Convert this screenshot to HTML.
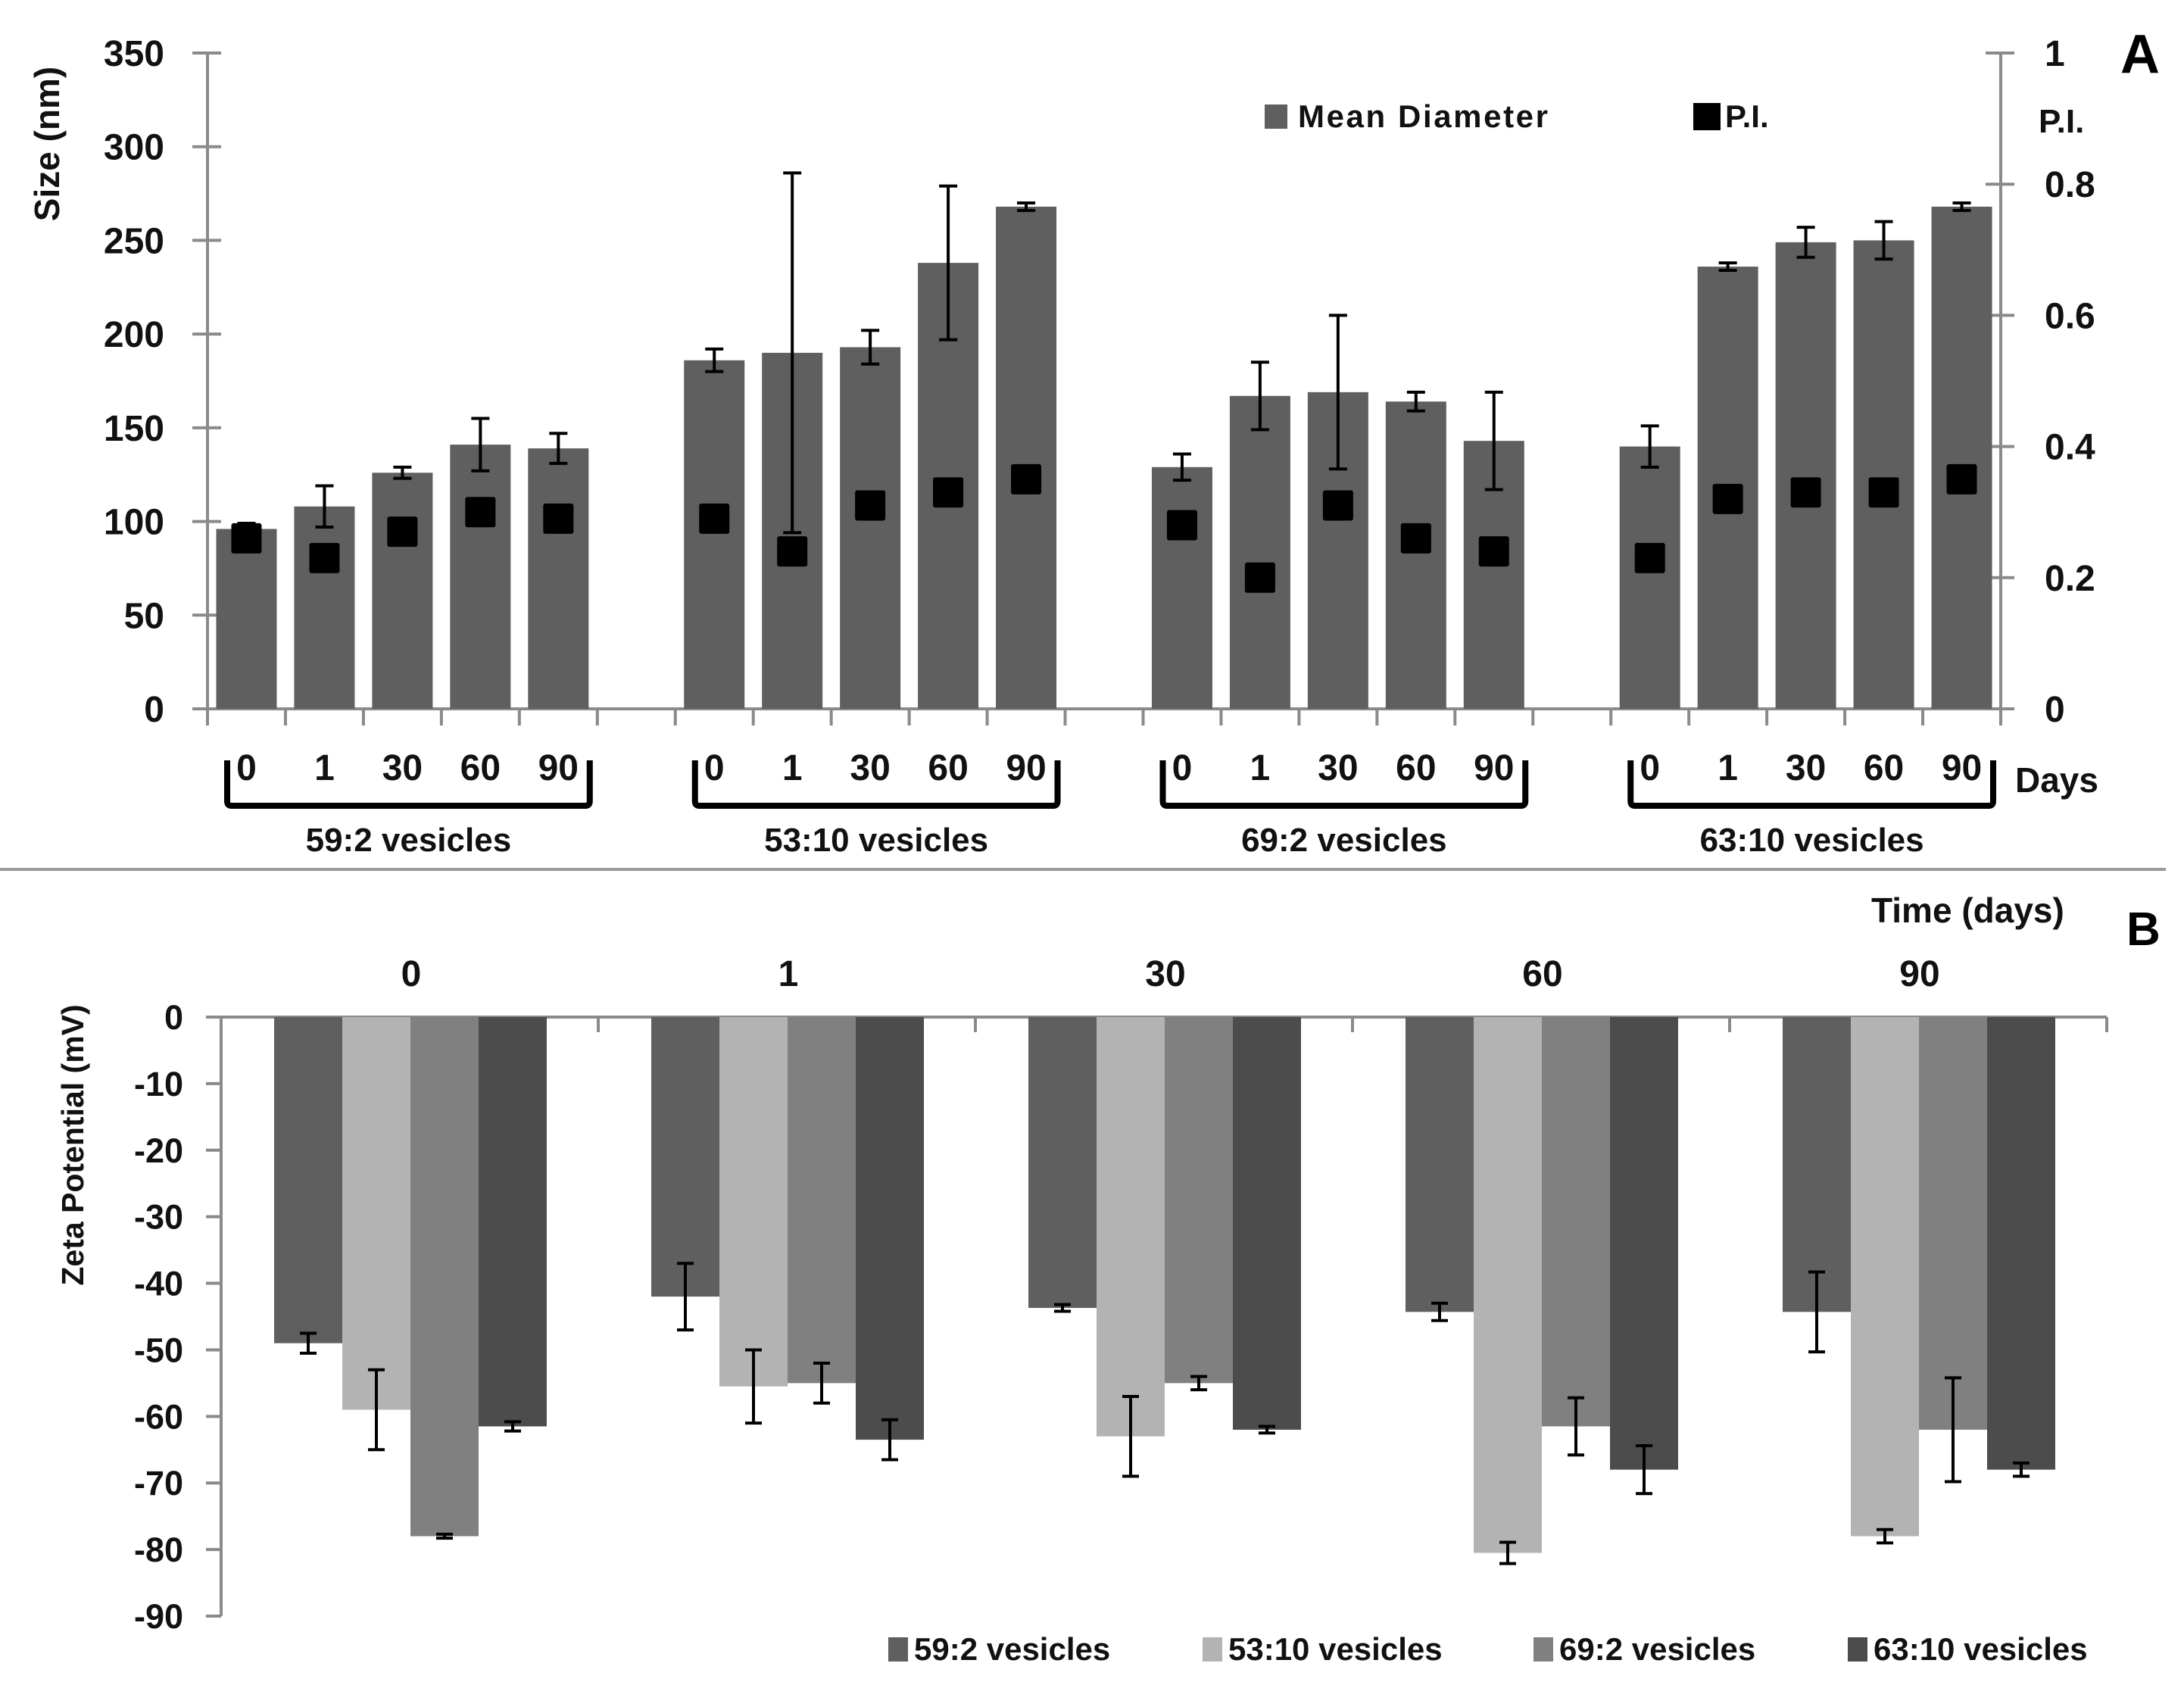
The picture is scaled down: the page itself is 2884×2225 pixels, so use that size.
<!DOCTYPE html>
<html><head><meta charset="utf-8">
<style>
html,body{margin:0;padding:0;background:#fff;}
svg{display:block;font-family:"Liberation Sans",sans-serif;font-weight:bold;}
</style></head>
<body>
<svg id="fig" width="2884" height="2225" viewBox="0 0 2884 2225" xmlns="http://www.w3.org/2000/svg">
<g id="panelA"></g>
<g id="panelB"></g>
</svg>
<script>
// ---------- Panel A data ----------
const groupsA = ["59:2 vesicles","53:10 vesicles","69:2 vesicles","63:10 vesicles"];
const daysA = ["0","1","30","60","90"];
const sizeG1 = [96,108,126,141,139];
const sizeG2 = [186,190,193,238,268];
const sizeG3 = [129,167,169,164,143];
const sizeG4 = [140,236,249,250,268];
const sizeErrG1 = [3,11,3,14,8];
const sizeErrG2 = [6,96,9,41,2];
const sizeErrG3 = [7,18,41,5,26];
const sizeErrG4 = [11,2,8,10,2];
const piG1 = [0.26,0.23,0.27,0.30,0.29];
const piG2 = [0.29,0.24,0.31,0.33,0.35];
const piG3 = [0.28,0.20,0.31,0.26,0.24];
const piG4 = [0.23,0.32,0.33,0.33,0.35];
const sizeTicks = [0,50,100,150,200,250,300,350];
const piTicks = [0,0.2,0.4,0.6,0.8,1];
const piTickLabels = ["0","0.2","0.4","0.6","0.8","1"];
// ---------- Panel B data ----------
const daysB = ["0","1","30","60","90"];
const seriesB = ["59:2 vesicles","53:10 vesicles","69:2 vesicles","63:10 vesicles"];
const zeta592 = [-49,-42,-43.7,-44.3,-44.3];
const zeta5310 = [-59,-55.5,-63,-80.5,-78];
const zeta692 = [-78,-55,-55,-61.5,-62];
const zeta6310 = [-61.5,-63.5,-62,-68,-68];
const zetaErr592 = [1.5,5,0.5,1.3,6];
const zetaErr5310 = [6,5.5,6,1.6,1];
const zetaErr692 = [0.3,3,1,4.3,7.8];
const zetaErr6310 = [0.7,3,0.5,3.6,1];
const zetaTicks = [0,-10,-20,-30,-40,-50,-60,-70,-80,-90];

const NS="http://www.w3.org/2000/svg";
function mk(parent,tag,attrs,text){const e=document.createElementNS(NS,tag);for(const k in attrs)e.setAttribute(k,attrs[k]);if(text!==undefined)e.textContent=text;parent.appendChild(e);return e;}

// ---------- Panel A ----------
(function(){
const g=document.getElementById('panelA');
const x0=274,x1=2642,yTop=70,yBot=936;
const nCat=23,cw=(x1-x0)/nCat;
const yS=v=>yBot-(v/350)*(yBot-yTop);
const yP=v=>yBot-v*(yBot-yTop);
const axisC="#8a8a8a";
let e;
e=mk(g,'line',{x1:x0,y1:yTop,x2:x0,y2:yBot,stroke:axisC,'stroke-width':4});

e=mk(g,'line',{x1:x1,y1:yTop,x2:x1,y2:yBot,stroke:axisC,'stroke-width':4});

e=mk(g,'line',{x1:x0,y1:yBot,x2:x1,y2:yBot,stroke:axisC,'stroke-width':4});

sizeTicks.forEach(t=>{
 const y=yS(t);
 e=mk(g,'line',{x1:x0-20,y1:y,x2:x0+18,y2:y,stroke:axisC,'stroke-width':4});
 
 e=mk(g,'text',{x:217,y:y+17,'text-anchor':'end','font-size':48,fill:'#111'},String(t));
 
});
piTicks.forEach((t,i)=>{
 const y=yP(t);
 e=mk(g,'line',{x1:x1-20,y1:y,x2:x1+18,y2:y,stroke:axisC,'stroke-width':4});
 
 e=mk(g,'text',{x:2700,y:y+17,'text-anchor':'start','font-size':48,fill:'#111'},piTickLabels[i]);
 
});
for(let i=0;i<=nCat;i++){
 e=mk(g,'line',{x1:x0+i*cw,y1:yBot,x2:x0+i*cw,y2:yBot+22,stroke:axisC,'stroke-width':4});
 
}
const sizes=[sizeG1,sizeG2,sizeG3,sizeG4],errs=[sizeErrG1,sizeErrG2,sizeErrG3,sizeErrG4],pis=[piG1,piG2,piG3,piG4];
sizes.forEach((arr,gi)=>{
 const start=gi*6;
 arr.forEach((v,di)=>{
  const cx=x0+(start+di+0.5)*cw;
  e=mk(g,'rect',{x:cx-40,y:yS(v),width:80,height:yBot-yS(v),fill:'#5f5f5f'});
  
  const er=errs[gi][di];
  e=mk(g,'path',{d:`M${cx} ${yS(v+er)}V${yS(v-er)}M${cx-12} ${yS(v+er)}H${cx+12}M${cx-12} ${yS(v-er)}H${cx+12}`,stroke:'#000','stroke-width':4,fill:'none'});
  
  const py=yP(pis[gi][di]);
  e=mk(g,'rect',{x:cx-20,y:py-20,width:40,height:40,fill:'#000',rx:3});
  
  e=mk(g,'text',{x:cx,y:1030,'text-anchor':'middle','font-size':48,fill:'#111'},daysA[di]);
  
 });
 const bx0=x0+start*cw+26,bx1=x0+(start+5)*cw-10;
 e=mk(g,'path',{d:`M${bx0} 1004V1058Q${bx0} 1064 ${bx0+6} 1064H${bx1-6}Q${bx1} 1064 ${bx1} 1058V1004`,stroke:'#000','stroke-width':8,fill:'none'});
 
 e=mk(g,'text',{x:(bx0+bx1)/2,y:1124,'text-anchor':'middle','font-size':44,fill:'#111'},groupsA[gi]);
 
});
e=mk(g,'text',{x:2661,y:1046,'font-size':46,fill:'#111'},'Days');

e=mk(g,'text',{x:0,y:0,'font-size':46,fill:'#111','text-anchor':'middle',transform:'translate(78,190) rotate(-90)'},'Size (nm)');

e=mk(g,'text',{x:2692,y:175,'font-size':44,fill:'#111'},'P.I.');

e=mk(g,'text',{x:2800,y:96,'font-size':72,fill:'#000'},'A');

e=mk(g,'rect',{x:1670,y:138,width:30,height:32,fill:'#5f5f5f'});

e=mk(g,'text',{x:1714,y:168,'font-size':42,fill:'#111',textLength:330},'Mean Diameter');

e=mk(g,'rect',{x:2236,y:136,width:36,height:36,fill:'#000'});

e=mk(g,'text',{x:2278,y:168,'font-size':42,fill:'#111'},'P.I.');

e=mk(g,'line',{x1:0,y1:1148,x2:2860,y2:1148,stroke:'#9a9a9a','stroke-width':4});

})();

// ---------- Panel B ----------
(function(){
const g=document.getElementById('panelB');
const x0=292,x1=2782,y0=1343,y90=2134;
const cw=(x1-x0)/5;
const yZ=v=>y0+(-v/90)*(y90-y0);
const axisC="#8a8a8a";
const colors=['#5f5f5f','#b3b3b3','#808080','#4c4c4c'];
const vals=[zeta592,zeta5310,zeta692,zeta6310],errs=[zetaErr592,zetaErr5310,zetaErr692,zetaErr6310];
let e;
e=mk(g,'line',{x1:x0,y1:y0,x2:x0,y2:y90,stroke:axisC,'stroke-width':4});

e=mk(g,'line',{x1:x0-20,y1:y0,x2:x1,y2:y0,stroke:axisC,'stroke-width':4});

zetaTicks.forEach(t=>{
 const y=yZ(t);
 e=mk(g,'line',{x1:x0-20,y1:y,x2:x0,y2:y,stroke:axisC,'stroke-width':4});
 
 e=mk(g,'text',{x:242,y:y+16,'text-anchor':'end','font-size':45,fill:'#111'},String(t));
 
});
for(let i=1;i<=5;i++){
 e=mk(g,'line',{x1:x0+i*cw,y1:y0,x2:x0+i*cw,y2:y0+20,stroke:axisC,'stroke-width':4});
 
}
daysB.forEach((d,di)=>{
 const cs=x0+di*cw;
 e=mk(g,'text',{x:cs+cw/2+2,y:1302,'text-anchor':'middle','font-size':48,fill:'#111'},d);
 
 vals.forEach((arr,si)=>{
  const bx=cs+70+si*90,v=arr[di],er=errs[si][di],cx=bx+45;
  e=mk(g,'rect',{x:bx,y:y0,width:90,height:yZ(v)-y0,fill:colors[si]});
  
  e=mk(g,'path',{d:`M${cx} ${yZ(v+er)}V${yZ(v-er)}M${cx-11} ${yZ(v+er)}H${cx+11}M${cx-11} ${yZ(v-er)}H${cx+11}`,stroke:'#000','stroke-width':4,fill:'none'});
  
 });
});
e=mk(g,'text',{x:0,y:0,'font-size':41,fill:'#111','text-anchor':'middle',transform:'translate(110,1512) rotate(-90)'},'Zeta Potential (mV)');

e=mk(g,'text',{x:2471,y:1218,'font-size':46,fill:'#111'},'Time (days)');

e=mk(g,'text',{x:2808,y:1248,'font-size':62,fill:'#000'},'B');

const legX=[1173,1588,2025,2440];
seriesB.forEach((s,si)=>{
 e=mk(g,'rect',{x:legX[si],y:2162,width:26,height:32,fill:colors[si]});
 
 e=mk(g,'text',{x:legX[si]+34,y:2192,'font-size':42,fill:'#111'},s);
 
});
})();
</script>
</body></html>
